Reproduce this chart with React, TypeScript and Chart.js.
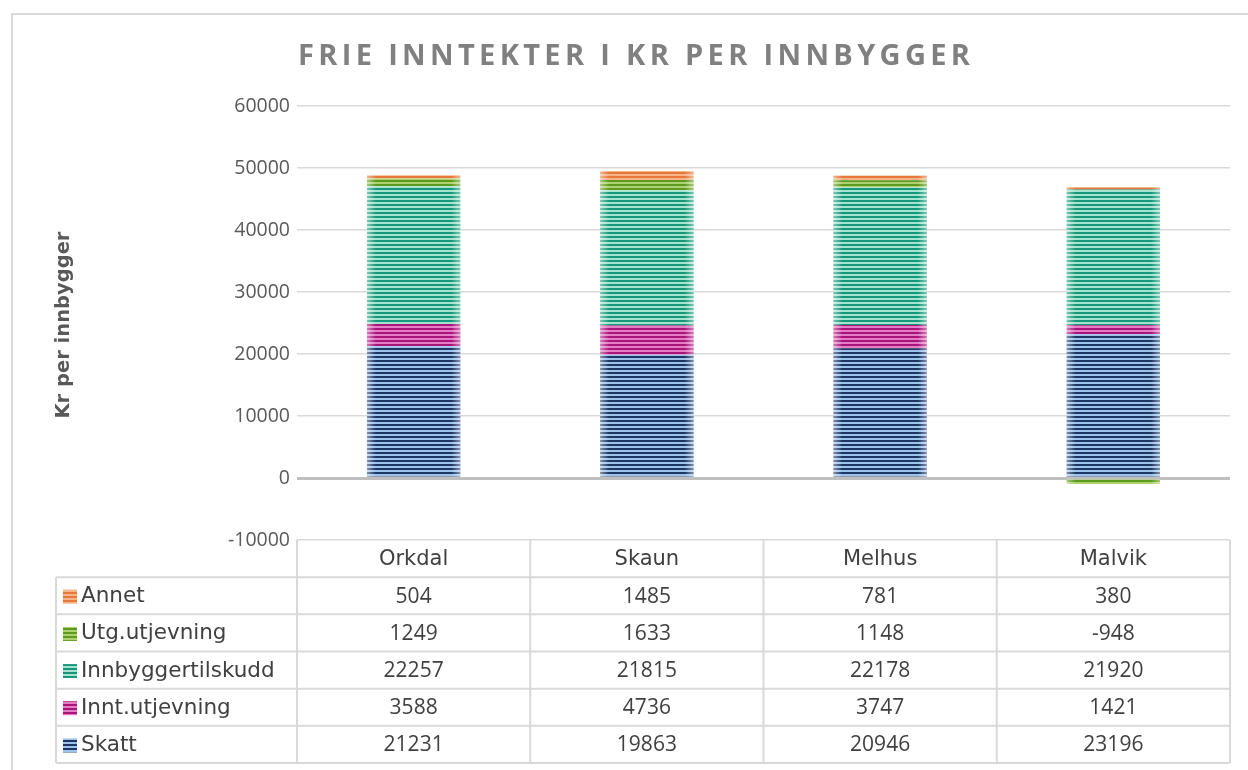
import React, { useEffect, useRef } from 'react';
import { Chart, registerables } from 'chart.js';
Chart.register(...registerables);

const title = 'FRIE INNTEKTER I KR PER INNBYGGER';
const yAxisTitle = 'Kr per innbygger';
const categories = ['Orkdal', 'Skaun', 'Melhus', 'Malvik'];
const skatt = [21231, 19863, 20946, 23196];
const inntUtjevning = [3588, 4736, 3747, 1421];
const innbyggertilskudd = [22257, 21815, 22178, 21920];
const utgUtjevning = [1249, 1633, 1148, -948];
const annet = [504, 1485, 781, 380];
const yMin = -10000;
const yMax = 60000;
const yStep = 10000;

const series = [
  { label: 'Skatt', data: skatt, dark: '#1C3763', light: '#9EC2EA' },
  { label: 'Innt.utjevning', data: inntUtjevning, dark: '#A8157A', light: '#E67CC6' },
  { label: 'Innbyggertilskudd', data: innbyggertilskudd, dark: '#17977A', light: '#A4E3CF' },
  { label: 'Utg.utjevning', data: utgUtjevning, dark: '#5E9A1E', light: '#AED273' },
  { label: 'Annet', data: annet, dark: '#E8783A', light: '#F5B48A' },
];

const NUM_FONT = '"Open Sans", "DejaVu Sans", sans-serif';
const WORD_FONT = '"DejaVu Sans", "Open Sans", sans-serif';

function makePattern(ctx: CanvasRenderingContext2D, dark: string, light: string) {
  const c = document.createElement('canvas');
  c.width = 4;
  c.height = 4;
  const g = c.getContext('2d')!;
  g.fillStyle = light;
  g.fillRect(0, 0, 4, 4);
  g.fillStyle = dark;
  g.fillRect(0, 0, 4, 2);
  return ctx.createPattern(c, 'repeat')!;
}

export default function App() {
  const ref = useRef<HTMLCanvasElement>(null);
  useEffect(() => {
    document.body.style.margin = '0';
    const canvas = ref.current!;
    const ctx = canvas.getContext('2d')!;

    const decorPlugin = {
      id: 'decor',
      afterDatasetsDraw(chart: any) {
        const c = chart.ctx as CanvasRenderingContext2D;
        c.save();
        chart.data.datasets.forEach((_: any, di: number) => {
          const meta = chart.getDatasetMeta(di);
          meta.data.forEach((bar: any) => {
            const left = bar.x - bar.width / 2;
            const right = bar.x + bar.width / 2;
            const top = Math.min(bar.y, bar.base);
            const h = Math.abs(bar.base - bar.y);
            const w = 9;
            let g = c.createLinearGradient(left, 0, left + w, 0);
            g.addColorStop(0, 'rgba(255,255,255,0.45)');
            g.addColorStop(1, 'rgba(255,255,255,0)');
            c.fillStyle = g;
            c.fillRect(left, top, w, h);
            g = c.createLinearGradient(right - w, 0, right, 0);
            g.addColorStop(0, 'rgba(255,255,255,0)');
            g.addColorStop(1, 'rgba(255,255,255,0.45)');
            c.fillStyle = g;
            c.fillRect(right - w, top, w, h);
          });
        });
        c.restore();
      },
      afterDraw(chart: any) {
        const c = chart.ctx as CanvasRenderingContext2D;
        const area = chart.chartArea;
        const xs = chart.scales.x;
        c.save();
        // outer frame
        c.strokeStyle = '#D9D9D9';
        c.lineWidth = 2;
        c.strokeRect(12, 14, 1260, 800);

        // title
        c.fillStyle = '#808080';
        c.font = `bold 29px ${NUM_FONT}`;
        c.textBaseline = 'alphabetic';
        c.textAlign = 'left';
        const targetW = 672;
        (c as any).letterSpacing = '0px';
        const raw = c.measureText(title).width;
        const sp = (targetW - raw) / (title.length - 1);
        (c as any).letterSpacing = `${sp}px`;
        c.fillText(title, 298, 65);
        (c as any).letterSpacing = '0px';

        // y axis title
        c.save();
        c.translate(64, 325);
        c.rotate(-Math.PI / 2);
        c.textAlign = 'center';
        c.textBaseline = 'middle';
        c.fillStyle = '#595959';
        c.font = `bold 19.5px ${WORD_FONT}`;
        c.fillText(yAxisTitle, 0, 0);
        c.restore();

        // data table
        const top = area.bottom;
        const bottom = 763;
        const rowH = (bottom - top) / 6;
        const legendLeft = 56;
        const colW = (area.right - area.left) / categories.length;
        c.strokeStyle = '#D9D9D9';
        c.lineWidth = 2;
        c.beginPath();
        for (let i = 0; i <= categories.length; i++) {
          const x = area.left + i * colW;
          c.moveTo(x, top);
          c.lineTo(x, bottom);
        }
        c.moveTo(legendLeft, top + rowH);
        c.lineTo(legendLeft, bottom);
        for (let r = 1; r <= 6; r++) {
          const y = top + r * rowH;
          c.moveTo(legendLeft, y);
          c.lineTo(area.right, y);
        }
        c.stroke();

        c.fillStyle = '#404040';
        c.textBaseline = 'middle';
        c.textAlign = 'center';
        c.font = `21px ${WORD_FONT}`;
        categories.forEach((cat, i) => {
          c.fillText(cat, xs.getPixelForValue(i), top + rowH / 2 + 1);
        });
        const rows = [...series].reverse();
        rows.forEach((s, r) => {
          const cy = top + (r + 1.5) * rowH + 1;
          const pat = makePattern(c, s.dark, s.light);
          c.fillStyle = pat;
          c.fillRect(63, cy - 7, 14, 14);
          c.fillStyle = '#404040';
          c.textAlign = 'left';
          c.font = `21.5px ${WORD_FONT}`;
          c.fillText(s.label, 81, cy);
          c.textAlign = 'center';
          c.font = `21px ${NUM_FONT}`;
          s.data.forEach((v, i) => {
            c.fillText(String(v), xs.getPixelForValue(i), cy);
          });
        });
        c.restore();
      },
    };

    const chart = new Chart(canvas, {
      type: 'bar',
      data: {
        labels: categories,
        datasets: series.map((s) => ({
          label: s.label,
          data: s.data,
          backgroundColor: makePattern(ctx, s.dark, s.light),
          borderWidth: 0,
          barPercentage: 0.4,
          categoryPercentage: 1,
        })),
      },
      options: {
        responsive: false,
        animation: false,
        layout: { padding: { left: 0, right: 18, top: 106, bottom: 230 } },
        plugins: {
          legend: { display: false },
          title: { display: false },
          tooltip: { enabled: false },
        },
        scales: {
          x: { stacked: true, display: false, offset: true },
          y: {
            stacked: true,
            min: yMin,
            max: yMax,
            afterFit: (s: any) => {
              s.width = 297;
            },
            ticks: {
              stepSize: yStep,
              padding: 7,
              color: '#595959',
              font: { family: NUM_FONT, size: 19.5 },
              callback: (v: any) => String(v),
            },
            grid: {
              drawTicks: false,
              color: (c: any) => (c.tick && c.tick.value === 0 ? '#BFBFBF' : '#D9D9D9'),
              lineWidth: (c: any) => (c.tick && c.tick.value === 0 ? 3 : 1.5),
            },
            border: { display: false },
          },
        },
      },
      plugins: [decorPlugin],
    });
    return () => chart.destroy();
  }, []);
  return <canvas ref={ref} width={1248} height={770} style={{ display: 'block' }} />;
}
